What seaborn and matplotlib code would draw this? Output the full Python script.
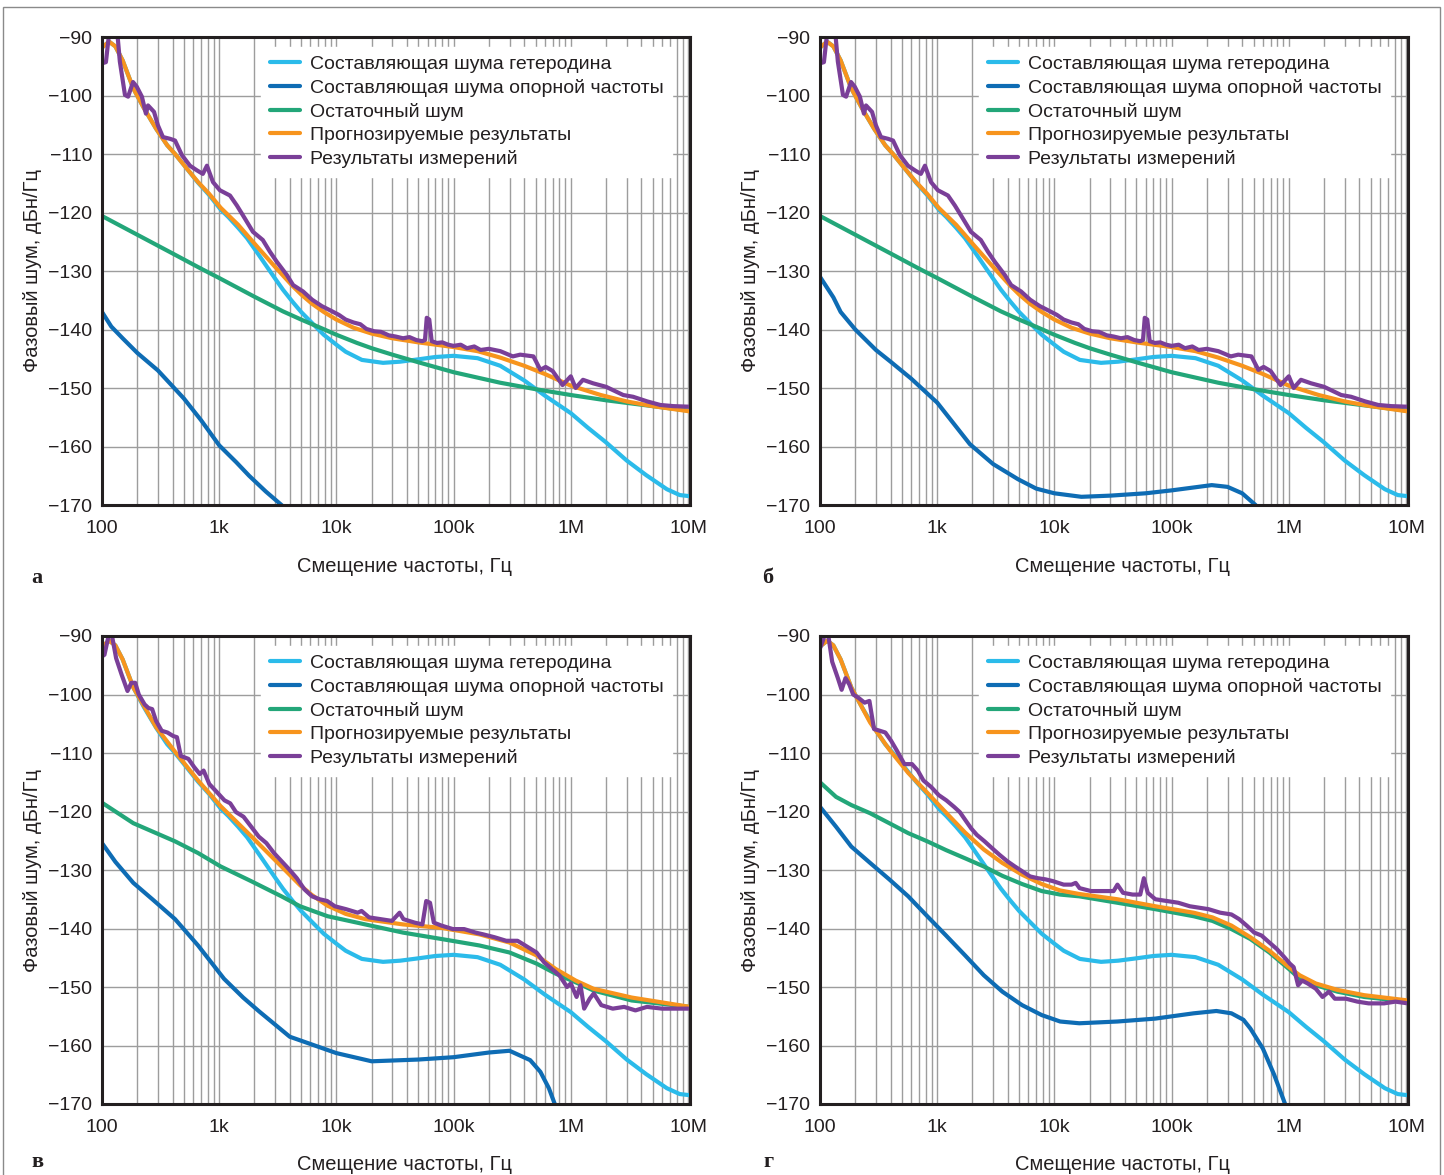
import numpy as np
import pandas as pd
import matplotlib
matplotlib.use('Agg')
import matplotlib.pyplot as plt
import seaborn as sns
from matplotlib.ticker import LogLocator, NullFormatter
from matplotlib.patches import Rectangle

sns.set_style('white')
plt.rcParams['font.family'] = ['Liberation Sans', 'DejaVu Sans']

# ---- data (Hz, dBc/Hz) ----
series_names = ['Составляющая шума гетеродина', 'Составляющая шума опорной частоты',
                'Остаточный шум', 'Прогнозируемые результаты', 'Результаты измерений']
series_colors = ['#2bbbea', '#0e6cb4', '#23a679', '#f7941d', '#7a3f98']

x_ticks = [1e2, 1e3, 1e4, 1e5, 1e6, 1e7]
x_tick_labels = ['100', '1k', '10k', '100k', '1M', '10M']
y_ticks = [-170, -160, -150, -140, -130, -120, -110, -100, -90]
y_tick_labels = ['−170', '−160', '−150', '−140', '−130', '−120', '−110', '−100', '−90']
panel_letters = ['а', 'б', 'в', 'г']

# LO noise contribution (same in all four panels)
lo_noise = [(100, -91.8), (115, -90.8), (130, -91.6), (150, -94.0), (185, -98.8), (230, -102.3),
            (290, -105.7), (360, -108.5), (420, -110.0), (520, -112.3), (660, -114.9), (820, -117.0),
            (1030, -119.5), (1200, -120.8), (1450, -122.6), (1730, -124.4), (2100, -126.8),
            (2500, -129.0), (3000, -131.3), (3500, -133.2), (4200, -135.2), (5000, -137.0),
            (6200, -138.9), (7800, -140.9), (10000, -142.6), (12000, -143.8), (16500, -145.2),
            (25000, -145.7), (35000, -145.5), (50000, -145.1), (70000, -144.7), (100000, -144.5),
            (160000, -144.9), (250000, -146.2), (400000, -148.7), (600000, -151.3), (1000000, -154.3),
            (1400000, -156.8), (2000000, -159.3), (3000000, -162.4), (4400000, -164.9),
            (6600000, -167.3), (8500000, -168.3), (10400000, -168.5)]

# panel а
ref_a = [(100, -137.0), (120, -139.5), (150, -141.5), (200, -144.0), (300, -147.0), (500, -151.8),
         (700, -155.5), (1000, -159.8), (1400, -162.7), (1800, -165.0), (2500, -167.7),
         (3400, -170.0), (4000, -171.3)]
res_a = [(100, -120.6), (200, -123.8), (400, -127.0), (700, -129.6), (1000, -131.2), (2000, -134.4),
         (3500, -136.9), (5000, -138.3), (7500, -139.8), (10000, -140.9), (15000, -142.3),
         (20000, -143.2), (30000, -144.3), (50000, -145.6), (100000, -147.3), (250000, -149.1),
         (500000, -150.2), (1000000, -151.2), (2000000, -152.1), (5000000, -153.1), (10400000, -153.9)]
pred_a = [(100, -91.8), (115, -90.8), (130, -91.6), (150, -94.0), (185, -98.8), (230, -102.3),
          (290, -105.7), (360, -108.5), (420, -110.0), (520, -112.3), (660, -114.8), (820, -116.8),
          (1030, -119.2), (1450, -122.1), (2100, -125.8), (3000, -129.3), (4200, -132.5),
          (5000, -134.0), (6200, -135.6), (7800, -137.0), (10000, -138.3), (14000, -139.7),
          (20000, -140.7), (30000, -141.5), (50000, -142.2), (100000, -143.0), (160000, -143.7),
          (250000, -144.8), (400000, -146.2), (600000, -147.6), (1000000, -149.6), (1800000, -151.2),
          (3000000, -152.3), (5000000, -153.1), (7500000, -153.6), (10400000, -154.0)]
meas_a = [(100, -94.5), (108, -94.3), (117, -88.0), (134, -88.5), (142, -94.2), (157, -99.9),
          (167, -100.2), (184, -97.7), (198, -98.5), (219, -100.2), (237, -103.1), (247, -101.7),
          (278, -102.8), (300, -105.1), (331, -107.1), (380, -107.4), (420, -107.7), (481, -110.2),
          (563, -112.0), (646, -112.8), (725, -113.4), (786, -112.0), (885, -114.8), (1014, -116.2),
          (1236, -117.1), (1415, -118.8), (1596, -120.5), (1940, -123.3), (2355, -124.7),
          (2708, -126.7), (3095, -128.4), (3780, -130.7), (4270, -132.4), (5195, -133.5),
          (6200, -134.9), (7500, -136.0), (9000, -136.8), (10500, -137.5), (12000, -138.3),
          (14000, -138.8), (16000, -139.1), (18000, -139.9), (21000, -140.3), (24000, -140.4),
          (28000, -141.0), (32000, -141.2), (37000, -141.5), (42000, -141.3), (48000, -141.8),
          (54000, -142.0), (57000, -141.8), (59000, -138.0), (62000, -138.3), (65000, -142.0),
          (72000, -142.3), (80000, -142.2), (90000, -142.6), (100000, -142.8), (115000, -142.6),
          (130000, -143.2), (150000, -142.9), (170000, -143.5), (200000, -143.3), (250000, -143.7),
          (320000, -144.6), (370000, -144.3), (480000, -144.6), (550000, -146.9), (610000, -146.4),
          (700000, -147.1), (850000, -149.5), (1000000, -148.0), (1100000, -150.0),
          (1270000, -148.6), (1550000, -149.2), (2000000, -149.8), (2800000, -151.2),
          (3400000, -151.5), (4500000, -152.3), (5800000, -152.9), (7500000, -153.1),
          (10400000, -153.2)]

# panel б (residual, prediction and measurement match panel а)
ref_b = [(100, -131.0), (130, -134.5), (150, -137.0), (200, -140.0), (300, -143.5), (400, -145.5),
         (600, -148.4), (1000, -152.5), (1900, -159.6), (3000, -163.0), (4900, -165.6),
         (7000, -167.2), (10000, -168.0), (17000, -168.6), (30000, -168.4), (60000, -168.0),
         (100000, -167.5), (220000, -166.6), (300000, -166.9), (400000, -168.0), (520000, -170.0),
         (560000, -171.0)]

# panel в
ref_c = [(100, -125.4), (130, -128.6), (185, -132.2), (269, -135.0), (420, -138.4), (660, -142.9),
         (1100, -148.6), (1600, -151.8), (2200, -154.2), (4000, -158.5), (10000, -161.3),
         (20000, -162.7), (50000, -162.4), (100000, -162.0), (200000, -161.2), (300000, -160.9),
         (450000, -162.5), (550000, -164.5), (650000, -167.3), (730000, -170.0), (780000, -171.5)]
res_c = [(100, -118.5), (185, -122.0), (290, -123.7), (420, -125.1), (660, -127.1), (1030, -129.4),
         (1870, -131.9), (3400, -134.5), (4900, -136.2), (8400, -137.9), (17600, -139.3),
         (37000, -140.7), (79000, -141.8), (166000, -142.9), (300000, -144.1), (510000, -146.0),
         (740000, -147.7), (1100000, -149.2), (1560000, -150.6), (3300000, -152.3), (10400000, -153.4)]
pred_c = [(100, -91.8), (115, -90.8), (130, -91.6), (150, -94.0), (185, -98.8), (290, -105.6),
          (420, -109.8), (660, -114.7), (1030, -119.1), (1870, -124.2), (3400, -129.4),
          (4900, -132.6), (6200, -134.3), (8400, -136.1), (12000, -137.5), (17600, -138.4),
          (37000, -139.3), (79000, -139.9), (166000, -141.0), (300000, -142.4), (510000, -144.6),
          (740000, -146.9), (1100000, -148.9), (1560000, -150.3), (3300000, -151.8), (10400000, -153.4)]
meas_c = [(100, -93.5), (105, -93.2), (118, -88.5), (132, -93.8), (147, -96.6), (165, -99.4),
          (178, -98.0), (192, -98.0), (206, -100.0), (231, -101.7), (249, -102.3), (268, -102.5),
          (289, -104.5), (323, -106.2), (362, -106.5), (405, -107.1), (436, -107.3), (470, -110.5),
          (546, -111.0), (611, -112.4), (683, -113.6), (736, -113.0), (823, -115.3), (957, -116.7),
          (1110, -118.1), (1242, -118.6), (1390, -120.1), (1614, -120.9), (1875, -122.6),
          (2177, -124.3), (2527, -125.4), (2934, -127.1), (3407, -128.5), (3956, -129.9),
          (4593, -131.4), (5333, -133.3), (6192, -134.5), (7190, -135.0), (8348, -135.3),
          (9693, -136.2), (12100, -136.7), (15200, -137.3), (16400, -137.0), (19000, -138.1),
          (23800, -138.4), (29800, -138.7), (34600, -137.3), (37300, -138.4), (46600, -139.0),
          (54200, -139.3), (58400, -135.3), (62900, -135.6), (67800, -139.0), (78700, -139.5),
          (98600, -140.1), (123000, -140.1), (154000, -140.7), (179000, -141.0), (224000, -141.5),
          (281000, -142.1), (351000, -142.1), (408000, -142.9), (510000, -144.1), (593000, -145.8),
          (688000, -146.9), (799000, -148.0), (929000, -150.0), (1000000, -149.4),
          (1120000, -151.7), (1210000, -149.7), (1300000, -153.7), (1450000, -152.0),
          (1570000, -151.1), (1820000, -153.1), (2280000, -153.7), (2850000, -153.4),
          (3560000, -154.0), (4460000, -153.4), (6010000, -153.7), (8110000, -153.7),
          (10400000, -153.7)]

# panel г
ref_d = [(100, -119.2), (137, -122.6), (185, -126.0), (268, -128.8), (390, -131.6), (566, -134.5),
         (823, -137.9), (1190, -141.2), (1730, -144.6), (2500, -148.0), (3600, -150.8),
         (5300, -153.1), (7800, -154.8), (11200, -155.9), (16300, -156.2), (34500, -155.9),
         (72700, -155.4), (154000, -154.5), (241000, -154.1), (324000, -154.5), (410000, -155.6),
         (470000, -157.1), (600000, -160.5), (750000, -165.0), (930000, -170.0), (1000000, -172.0)]
res_d = [(100, -115.0), (137, -117.5), (185, -118.9), (268, -120.3), (390, -122.0), (566, -123.7),
         (823, -125.1), (1190, -126.6), (1730, -128.0), (2500, -129.4), (3600, -131.0),
         (5300, -132.4), (7800, -133.6), (11200, -134.2), (16300, -134.5), (34500, -135.6),
         (72700, -136.7), (154000, -137.9), (223000, -138.7), (324000, -140.1), (470000, -141.8),
         (683000, -144.1), (1000000, -146.9), (1240000, -148.6), (1700000, -149.7),
         (2600000, -150.8), (4400000, -151.7), (10400000, -152.5)]
pred_d = [(100, -91.8), (115, -90.8), (130, -91.6), (150, -94.0), (185, -98.8), (268, -104.8),
          (390, -109.4), (566, -113.4), (823, -116.8), (1190, -120.2), (1730, -123.6),
          (2500, -126.5), (3600, -128.8), (5300, -130.8), (7800, -132.4), (11200, -133.5),
          (16300, -134.1), (34500, -135.0), (72700, -136.2), (154000, -137.3), (223000, -138.1),
          (324000, -139.5), (470000, -141.5), (683000, -143.8), (1000000, -146.6),
          (1240000, -148.0), (1700000, -149.4), (2600000, -150.5), (4400000, -151.4),
          (10400000, -152.3)]
meas_d = [(100, -92.1), (105, -91.0), (115, -88.5), (127, -94.4), (142, -97.2), (153, -99.2),
          (165, -97.2), (178, -98.3), (192, -100.0), (214, -100.6), (240, -101.4), (264, -101.1),
          (289, -105.9), (324, -106.2), (361, -106.5), (404, -107.9), (453, -109.6), (525, -111.9),
          (610, -111.9), (683, -113.0), (763, -114.7), (887, -115.8), (1031, -117.2),
          (1198, -118.1), (1392, -119.2), (1559, -120.1), (1743, -121.5), (1951, -122.9),
          (2180, -124.0), (2535, -125.1), (2950, -126.3), (3400, -127.4), (3960, -128.5),
          (4600, -129.4), (5300, -130.2), (6200, -131.1), (7200, -131.4), (8400, -131.6),
          (9700, -131.9), (12000, -132.5), (14000, -132.5), (15200, -132.2), (16400, -133.1),
          (20500, -133.6), (25500, -133.6), (32000, -133.6), (34500, -132.5), (38500, -133.9),
          (46500, -134.2), (54000, -134.2), (58000, -131.4), (62600, -133.9), (72700, -135.0),
          (91000, -135.3), (114000, -135.6), (143000, -136.2), (166000, -136.4), (207000, -136.7),
          (260000, -137.3), (324000, -137.6), (377000, -138.4), (437000, -139.5), (507000, -140.7),
          (585000, -141.2), (683000, -142.4), (790000, -143.5), (915000, -144.9),
          (1020000, -146.0), (1100000, -146.6), (1200000, -149.7), (1300000, -148.9),
          (1450000, -149.4), (1700000, -150.3), (1940000, -151.7), (2200000, -150.8),
          (2470000, -152.0), (3070000, -152.0), (3850000, -152.5), (4800000, -152.8),
          (6500000, -152.8), (8100000, -152.5), (10400000, -152.8)]

panels = [
    [lo_noise, ref_a, res_a, pred_a, meas_a],
    [lo_noise, ref_b, res_a, pred_a, meas_a],
    [lo_noise, ref_c, res_c, pred_c, meas_c],
    [lo_noise, ref_d, res_d, pred_d, meas_d],
]

# ---- layout (pixel geometry of the reference, 1444x1175) ----
W, H = 1444, 1175
fig = plt.figure(figsize=(W / 100, H / 100), dpi=100)
fig.patch.set_facecolor('white')

ax_left = [102, 820]
ax_top = [37, 636]
ax_w, ax_h = 588, 468

for i, series in enumerate(panels):
    col, row = i % 2, i // 2
    l, t = ax_left[col], ax_top[row]
    ax = fig.add_axes([l / W, 1 - (t + ax_h) / H, ax_w / W, ax_h / H])
    ax.set_xscale('log')

    for name, color, data in zip(series_names, series_colors, series):
        df = pd.DataFrame(data, columns=['freq', 'noise'])
        sns.lineplot(data=df, x='freq', y='noise', ax=ax, color=color, lw=3.0,
                     label=name, estimator=None, sort=False)

    ax.set_xlim(100, 1.04e7)
    ax.set_ylim(-170, -90)
    ax.set_xticks(x_ticks)
    ax.set_xticklabels(x_tick_labels)
    ax.xaxis.set_minor_locator(LogLocator(base=10, subs=np.arange(2, 10), numticks=100))
    ax.xaxis.set_minor_formatter(NullFormatter())
    ax.set_yticks(y_ticks)
    ax.set_yticklabels(y_tick_labels)
    ax.tick_params(which='both', length=0, labelsize=14, colors='#231f20')
    ax.tick_params(axis='x', pad=11)
    ax.tick_params(axis='y', pad=7)
    ax.grid(which='both', axis='x', color='#9d9d9d', lw=1.0)
    ax.grid(which='major', axis='y', color='#9d9d9d', lw=1.0)
    ax.set_axisbelow(True)
    for s in ax.spines.values():
        s.set_linewidth(2.2)
        s.set_color('#231f20')
        s.set_zorder(5)

    ax.set_xlabel('Смещение частоты, Гц', fontsize=14.5, va='center', color='#231f20')
    ax.xaxis.set_label_coords(0.515, -(566 - 505) / ax_h)
    ax.set_ylabel('Фазовый шум, дБн/Гц', fontsize=14.5, va='center', color='#231f20')
    ax.yaxis.set_label_coords((32 - 102) / ax_w, 0.5)

    leg = ax.legend(loc='upper right', bbox_to_anchor=(0.97, 0.979), frameon=True,
                    fancybox=False, framealpha=1, facecolor='white', edgecolor='white',
                    fontsize=14, handlelength=1.55, handletextpad=0.5, labelspacing=0.3,
                    borderpad=0.45, borderaxespad=0)
    for txt in leg.get_texts():
        txt.set_color('#231f20')

    lx = (37 if col == 0 else 768) / W
    ly = 1 - (578 if row == 0 else 1162) / H
    fig.text(lx, ly, panel_letters[i], fontsize=16, fontweight='bold',
             family=['Liberation Serif', 'DejaVu Serif'], ha='center', va='center',
             color='#231f20')

fig.add_artist(Rectangle((3 / W, -0.02), (1440 - 3) / W, 1 - 7 / H + 0.02,
                         transform=fig.transFigure, fill=False, ec='#8a8a8a', lw=1.0))

fig.savefig('out.png', dpi=100, facecolor='white')
